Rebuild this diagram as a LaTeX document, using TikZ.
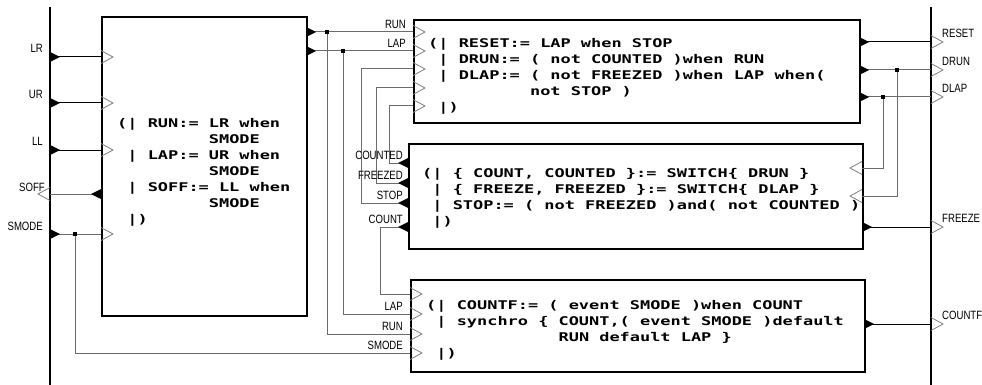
\documentclass[tikz,border=0pt]{standalone}
\usepackage{fontspec}
\newfontfamily\codefont[FakeStretch=1.41]{DejaVu Sans Mono}
\newfontfamily\lblfont[FakeStretch=0.8]{Liberation Sans}
\definecolor{wg}{gray}{0.42}
\definecolor{pg}{gray}{0.5}
\tikzset{
  box/.style={draw, line width=2pt, inner sep=0pt, anchor=north west},
  bar/.style={line width=2pt},
  wireK/.style={line width=1pt, black},
  wireG/.style={line width=1pt, wg},
  code/.style={font=\codefont\bfseries\fontsize{12}{16}\selectfont, align=left, anchor=north west, inner sep=0pt},
  lbl/.style={font=\lblfont\fontsize{12}{13}\selectfont, inner sep=0pt},
  jdot/.style={fill=black, rectangle, minimum size=3.5pt, inner sep=0pt},
  outR/.pic={\fill[black] (0,-5) -- (10,0) -- (0,5) -- cycle;},
  inR/.pic={\draw[pg, line width=0.8pt] (0,-6.5) -- (12,0) -- (0,6.5);}
}
\begin{document}
\begin{tikzpicture}[x=1pt,y=-1pt]
\useasboundingbox (0,0) rectangle (982,385);
% bars
\coordinate (lbt) at (50,7); \coordinate (lbb) at (50,385);
\coordinate (rbt) at (931,7); \coordinate (rbb) at (931,385);
\draw[bar] (lbt) -- (lbb);
\draw[bar] (rbt) -- (rbb);
% boxes
\node[box, minimum width=205pt, minimum height=299pt] (L) at (101,16) {};
\node[box, minimum width=446pt, minimum height=103pt] (T) at (413,19) {};
\node[box, minimum width=454pt, minimum height=105pt] (M) at (408,143) {};
\node[box, minimum width=454pt, minimum height=92pt] (B) at (410,279) {};
% texts
\node[code] (tL) at (117,118) {(| RUN:= LR when\\\phantom{xxxxxxxxx}SMODE\\\phantom{x}| LAP:= UR when\\\phantom{xxxxxxxxx}SMODE\\\phantom{x}| SOFF:= LL when\\\phantom{xxxxxxxxx}SMODE\\\phantom{x}|)};
\node[code] (tT) at (428,38) {(| RESET:= LAP when STOP\\\phantom{x}| DRUN:= ( not COUNTED )when RUN\\\phantom{x}| DLAP:= ( not FREEZED )when LAP when(\\\phantom{xxxxxxxxxx}not STOP )\\\phantom{x}|)};
\node[code] (tM) at (422,168) {(| \{ COUNT, COUNTED \}:= SWITCH\{ DRUN \}\\\phantom{x}| \{ FREEZE, FREEZED \}:= SWITCH\{ DLAP \}\\\phantom{x}| STOP:= ( not FREEZED )and( not COUNTED )\\\phantom{x}|)};
\node[code] (tB) at (426,300) {(| COUNTF:= ( event SMODE )when COUNT\\\phantom{x}| synchro \{ COUNT,( event SMODE )default\\\phantom{xxxxxxxxxxxxx}RUN default LAP \}\\\phantom{x}|)};
% port coordinates
\coordinate (LRo) at (50,57);   \coordinate (LRi) at (101,57);
\coordinate (URo) at (50,103);  \coordinate (URi) at (101,103);
\coordinate (LLo) at (50,150);  \coordinate (LLi) at (101,150);
\coordinate (SOo) at (101,194); \coordinate (SOi) at (50,194);
\coordinate (SMo) at (50,234);  \coordinate (SMi) at (101,234);
\coordinate (SMj) at (75,234);  \coordinate (SMb) at (410,353);
\coordinate (RUNo) at (306,32); \coordinate (RUNt) at (413,32);
\coordinate (RUNj) at (327,32); \coordinate (RUNb) at (410,334);
\coordinate (LAPo) at (306,51); \coordinate (LAPt) at (413,51);
\coordinate (LAPj) at (343,51); \coordinate (LAPb) at (410,314);
\coordinate (STo) at (408,203); \coordinate (STk) at (361,69);  \coordinate (STt) at (413,69);
\coordinate (FZo) at (408,183); \coordinate (FZk) at (376,88);  \coordinate (FZt) at (413,88);
\coordinate (CDo) at (408,163); \coordinate (CDk) at (389,106); \coordinate (CDt) at (413,106);
\coordinate (CTo) at (408,227); \coordinate (CTk) at (380,294); \coordinate (CTb) at (410,294);
\coordinate (RSo) at (859,42);  \coordinate (RSi) at (931,42);
\coordinate (DRo) at (859,70);  \coordinate (DRi) at (931,70);
\coordinate (DRj) at (897,70);  \coordinate (DRm) at (862,196);
\coordinate (DLo) at (859,97);  \coordinate (DLi) at (931,97);
\coordinate (DLj) at (883,97);  \coordinate (DLm) at (862,168);
\coordinate (FRo) at (862,227); \coordinate (FRi) at (931,227);
\coordinate (CFo) at (864,324); \coordinate (CFi) at (931,324);
% wires
\draw[wireK] (LRo) -- (LRi);
\draw[wireK] (URo) -- (URi);
\draw[wireK] (LLo) -- (LLi);
\draw[wireG] (SOo) -- (SOi);
\draw[wireG] (SMo) -- (SMi);
\draw[wireG] (SMj) |- (SMb);
\draw[wireG] (RUNo) -- (RUNt);
\draw[wireG] (RUNj) |- (RUNb);
\draw[wireG] (LAPo) -- (LAPt);
\draw[wireG] (LAPj) |- (LAPb);
\draw[wireG] (STo) -| (STk) -- (STt);
\draw[wireG] (FZo) -| (FZk) -- (FZt);
\draw[wireG] (CDo) -| (CDk) -- (CDt);
\draw[wireG] (CTo) -| (CTk) -- (CTb);
\draw[wireK] (RSo) -- (RSi);
\draw[wireG] (DRo) -- (DRi);
\draw[wireG] (DRj) |- (DRm);
\draw[wireG] (DLo) -- (DLi);
\draw[wireG] (DLj) |- (DLm);
\draw[wireK] (FRo) -- (FRi);
\draw[wireK] (CFo) -- (CFi);
% junction dots
\node[jdot] (jSM) at (SMj) {};
\node[jdot] (jRUN) at (RUNj) {};
\node[jdot] (jLAP) at (LAPj) {};
\node[jdot] (jDR) at (DRj) {};
\node[jdot] (jDL) at (DLj) {};
% filled output triangles
\pic at (LRo) {outR}; \pic at (URo) {outR}; \pic at (LLo) {outR}; \pic at (SMo) {outR};
\pic[rotate=180] at (SOo) {outR};
\pic at (RUNo) {outR}; \pic at (LAPo) {outR};
\pic[rotate=180] at (STo) {outR}; \pic[rotate=180] at (FZo) {outR};
\pic[rotate=180] at (CDo) {outR}; \pic[rotate=180] at (CTo) {outR};
\pic at (RSo) {outR}; \pic at (DRo) {outR}; \pic at (DLo) {outR};
\pic at (FRo) {outR}; \pic at (CFo) {outR};
% hollow input triangles
\pic at (LRi) {inR}; \pic at (URi) {inR}; \pic at (LLi) {inR}; \pic at (SMi) {inR};
\pic[rotate=180] at (SOi) {inR};
\pic at (RUNt) {inR}; \pic at (LAPt) {inR}; \pic at (STt) {inR}; \pic at (FZt) {inR}; \pic at (CDt) {inR};
\pic at (CTb) {inR}; \pic at (LAPb) {inR}; \pic at (RUNb) {inR}; \pic at (SMb) {inR};
\pic[rotate=180] at (DLm) {inR}; \pic[rotate=180] at (DRm) {inR};
\pic at (RSi) {inR}; \pic at (DRi) {inR}; \pic at (DLi) {inR}; \pic at (FRi) {inR}; \pic at (CFi) {inR};
% labels
\node[lbl, anchor=south east] (nLR) at (43,53) {LR};
\node[lbl, anchor=south east] (nUR) at (43,99) {UR};
\node[lbl, anchor=south east] (nLL) at (43,146) {LL};
\node[lbl, anchor=south east] (nSOFF) at (45,192) {SOFF};
\node[lbl, anchor=south east] (nSMODE) at (43,231) {SMODE};
\node[lbl, anchor=south east] (nRUN) at (406,29) {RUN};
\node[lbl, anchor=south east] (nLAP) at (406,48) {LAP};
\node[lbl, anchor=south east] (nCOUNTED) at (403,160) {COUNTED};
\node[lbl, anchor=south east] (nFREEZED) at (403,180) {FREEZED};
\node[lbl, anchor=south east] (nSTOP) at (403,200) {STOP};
\node[lbl, anchor=south east] (nCOUNT) at (403,224) {COUNT};
\node[lbl, anchor=south east] (nLAPb) at (403,311) {LAP};
\node[lbl, anchor=south east] (nRUNb) at (403,331) {RUN};
\node[lbl, anchor=south east] (nSMODEb) at (403,350) {SMODE};
\node[lbl, anchor=south west] (nRESET) at (942,38) {RESET};
\node[lbl, anchor=south west] (nDRUN) at (942,66) {DRUN};
\node[lbl, anchor=south west] (nDLAP) at (942,93) {DLAP};
\node[lbl, anchor=south west] (nFREEZE) at (942,223) {FREEZE};
\node[lbl, anchor=south west] (nCOUNTF) at (942,320) {COUNTF};
\end{tikzpicture}
\end{document}
